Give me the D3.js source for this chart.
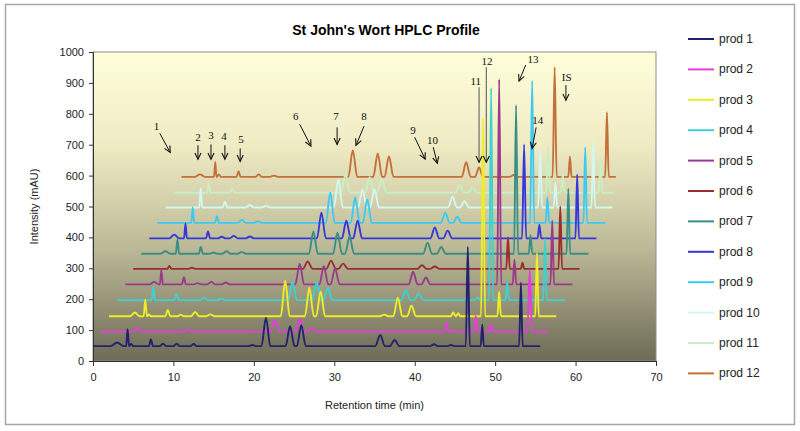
<!DOCTYPE html>
<html>
<head>
<meta charset="utf-8">
<script src="https://cdn.jsdelivr.net/npm/d3@7"></script>
<style>
  body { margin: 0; background: #fff; }
  text { font-family: Arial, "Liberation Sans", sans-serif; }
  .note { font-family: "Liberation Serif", "DejaVu Serif", serif; font-size: 11px; }
</style>
</head>
<body>
<svg width="800" height="431"></svg>
<script>
// series names + colours
var names = ["prod 1", "prod 2", "prod 3", "prod 4", "prod 5", "prod 6",
             "prod 7", "prod 8", "prod 9", "prod 10", "prod 11", "prod 12"];
var colors = ["#22226e", "#e83ce0", "#eeee22", "#3ad2d2", "#9a3a8c", "#9a2e2e",
              "#3a8e84", "#3636dc", "#3ccaf4", "#d2f8f0", "#c8f0c4", "#c4703a"];

// where each trace starts / ends (min) and its baseline (mAU)
var starts = [0, 1, 2, 3, 4, 5, 6, 7, 8, 9, 10, 11];
var ends = [55.6, 56.6, 57.6, 58.7, 59.6, 60.5, 61.6, 62.6, 63.7, 64.6, 64.8, 65.0];
var baselines = [48, 95, 145, 197, 248, 298, 347, 397, 447, 497, 545, 596];

// peaks: [retention time, height above baseline, half base width]
var peaks1 = [[3.0,12,0.8],[4.3,55,0.18],[4.75,8,0.25],[7.2,22,0.25],[8.7,8,0.4],[10.4,8,0.4],[12.5,7,0.4],
  [19.8,4,0.5],[21.5,92,0.55],[24.5,65,0.55],[25.9,68,0.55],[35.7,36,0.6],[37.5,20,0.6],[42.4,6,0.5],
  [44.5,4,0.5],[46.6,322,0.25],[48.4,70,0.2],[53.2,205,0.22]];
var peaks2 = [[5.5,10,0.6],[11.8,8,0.6],[22.6,38,0.55],[25.7,41,0.55],[27.2,10,0.6],[44.0,28,0.25],
  [47.6,51,0.22],[49.5,25,0.25],[54.3,200,0.3]];
var peaks3 = [[5.2,12,0.6],[6.5,53,0.2],[6.95,6,0.2],[9.3,20,0.3],[10.9,5,0.4],[12.7,14,0.5],[14.6,6,0.5],
  [23.9,115,0.55],[26.9,92,0.55],[28.3,80,0.55],[36.2,5,0.5],[37.9,60,0.55],[39.6,34,0.55],[44.8,12,0.3],
  [45.4,10,0.25],[48.5,640,0.25],[50.5,79,0.22],[55.2,205,0.22]];
var peaks4 = [[7.5,44,0.2],[10.4,18,0.3],[13.8,8,0.5],[16.0,5,0.5],[24.8,60,0.55],[27.8,58,0.55],
  [29.2,40,0.55],[38.9,33,0.55],[40.5,22,0.55],[46.5,6,0.5],[47.8,8,0.4],[49.5,686,0.25],[51.5,60,0.22],
  [56.2,199,0.22]];
var peaks5 = [[7.6,8,0.55],[8.5,47,0.18],[11.3,23,0.25],[13.0,4,0.5],[14.7,8,0.5],[16.5,6,0.5],
  [25.7,67,0.55],[28.7,60,0.55],[30.1,52,0.55],[39.8,41,0.55],[41.4,22,0.55],[50.5,664,0.25],
  [52.4,80,0.22],[57.1,207,0.22]];
var peaks6 = [[9.5,10,0.25],[12.3,4,0.4],[26.7,24,0.6],[29.6,27,0.6],[31.1,17,0.6],[40.9,12,0.6],
  [42.5,8,0.6],[51.6,102,0.22],[53.4,20,0.22],[58.1,202,0.22]];
var peaks7 = [[9.0,8,0.6],[10.5,46,0.2],[13.4,22,0.25],[15.0,4,0.5],[16.6,8,0.5],[18.5,6,0.5],
  [27.4,72,0.55],[30.4,68,0.55],[31.9,56,0.55],[41.6,36,0.55],[43.3,22,0.55],[52.6,481,0.25],
  [54.4,60,0.22],[59.1,211,0.22]];
var peaks8 = [[10.1,12,0.6],[11.5,48,0.18],[14.3,22,0.25],[16.0,5,0.5],[17.5,8,0.5],[19.5,6,0.5],
  [28.4,83,0.55],[31.5,57,0.55],[32.9,57,0.55],[42.5,35,0.55],[44.1,25,0.55],[53.6,304,0.25],
  [55.5,44,0.22],[60.2,207,0.22]];
var peaks9 = [[12.4,50,0.18],[15.4,22,0.25],[18.5,10,0.5],[20.5,5,0.5],[29.5,98,0.55],[32.6,82,0.55],
  [34.1,76,0.55],[43.8,33,0.55],[45.3,20,0.55],[54.6,459,0.25],[56.5,82,0.22],[61.2,245,0.22]];
var peaks10 = [[13.4,62,0.18],[16.4,18,0.3],[19.5,8,0.5],[21.5,5,0.5],[30.5,91,0.55],[33.5,58,0.55],
  [35.0,60,0.55],[44.7,35,0.55],[46.2,20,0.55],[55.6,188,0.25],[57.5,81,0.22],[62.2,214,0.22]];
var peaks11 = [[14.4,30,0.18],[17.3,12,0.3],[31.4,60,0.55],[34.4,50,0.55],[35.9,45,0.55],[45.6,25,0.55],
  [47.2,15,0.55],[56.6,150,0.25],[58.4,60,0.22],[63.1,114,0.22]];
var peaks12 = [[13.3,8,0.6],[15.2,48,0.15],[15.65,8,0.25],[18.1,18,0.25],[20.6,8,0.4],[22.5,4,0.5],
  [32.3,86,0.55],[35.4,76,0.55],[36.8,67,0.55],[46.4,47,0.55],[48.0,30,0.5],[52.3,6,0.5],
  [57.4,355,0.25],[59.3,66,0.2],[63.9,209,0.22]];
var allPeaks = [peaks1, peaks2, peaks3, peaks4, peaks5, peaks6,
                peaks7, peaks8, peaks9, peaks10, peaks11, peaks12];

var xTicks = [0, 10, 20, 30, 40, 50, 60, 70];
var yTicks = [0, 100, 200, 300, 400, 500, 600, 700, 800, 900, 1000];

// peak annotations: label, label position, arrow tail, arrow head (data units)
var noteLabels = ["1", "2", "3", "4", "5", "6", "7", "8", "9", "10", "11", "12", "13", "14", "IS"];
var notePos = [[7.9,760],[13.05,724],[14.67,731],[16.3,727],[18.4,718],[25.2,792],[30.2,792],[33.7,792],
  [39.8,747],[42.2,714],[47.6,906],[49.0,971],[54.7,977],[55.3,779],[58.9,919]];
var noteTail = [[8.3,737],[13.05,698],[14.67,701],[16.4,698],[18.3,688],[25.7,766],[30.35,756],[33.7,760],
  [40.0,724],[42.3,692],[48.0,886],[48.9,951],[53.8,958],[55.1,756],[58.8,893]];
var noteHead = [[9.6,675],[13.05,653],[14.67,653],[16.4,653],[18.3,646],[27.1,695],[30.35,701],[32.7,698],
  [41.3,653],[42.8,640],[48.0,643],[48.9,643],[52.97,906],[54.6,688],[58.8,844]];

var svg = d3.select("svg");

var plotL = 93, plotR = 656, plotT = 52, plotB = 361;
var x = d3.scaleLinear().domain([0, 70]).range([plotL, plotR]);
var y = d3.scaleLinear().domain([0, 1000]).range([plotB, plotT]);

// outer chart frame
svg.append("rect")
  .attr("x", 5.5).attr("y", 4.5).attr("width", 789).attr("height", 420)
  .attr("fill", "#fff").attr("stroke", "#a6a6a6").attr("stroke-width", 1.5);

// plot area gradient
var grad = svg.append("defs").append("linearGradient")
  .attr("id", "bg").attr("x1", 0).attr("y1", 0).attr("x2", 0).attr("y2", 1);
grad.append("stop").attr("offset", "0%").attr("stop-color", "#fffedb");
grad.append("stop").attr("offset", "30%").attr("stop-color", "#efecc4");
grad.append("stop").attr("offset", "65%").attr("stop-color", "#b9b695");
grad.append("stop").attr("offset", "100%").attr("stop-color", "#6e6b57");

svg.append("rect")
  .attr("x", plotL).attr("y", plotT).attr("width", plotR - plotL).attr("height", plotB - plotT)
  .attr("fill", "url(#bg)").attr("stroke", "#8c8c8c").attr("stroke-width", 1);

// title
svg.append("text")
  .attr("x", 386).attr("y", 35)
  .attr("text-anchor", "middle")
  .style("font-size", "14px").style("font-weight", "bold")
  .text("St John's Wort HPLC Profile");

// axes
var yAxis = svg.append("g")
  .attr("transform", "translate(" + plotL + ",0)")
  .call(d3.axisLeft(y).tickValues(yTicks).tickFormat(d3.format("d")).tickSize(4).tickPadding(5));
var xAxis = svg.append("g")
  .attr("transform", "translate(0," + plotB + ")")
  .call(d3.axisBottom(x).tickValues(xTicks).tickFormat(d3.format("d")).tickSize(5).tickPadding(7));
[xAxis, yAxis].forEach(function(a) {
  a.selectAll("text").style("font-size", "11px").attr("fill", "#222")
    .style("font-family", "Arial, 'Liberation Sans', sans-serif");
  a.selectAll("line").attr("stroke", "#333");
  a.select(".domain").attr("stroke", "#333");
});

svg.append("text")
  .attr("transform", "translate(38," + ((plotT + plotB) / 2) + ") rotate(-90)")
  .attr("text-anchor", "middle")
  .style("font-size", "11px").attr("fill", "#222")
  .text("Intensity (mAU)");
svg.append("text")
  .attr("x", (plotL + plotR) / 2).attr("y", 409)
  .attr("text-anchor", "middle")
  .style("font-size", "11px").attr("fill", "#222")
  .text("Retention time (min)");

// build each trace from its peak list
function tracePoints(i) {
  var pts = [[starts[i], 0]];
  allPeaks[i].forEach(function(p) {
    pts.push([p[0] - p[2], 0]);
    pts.push([p[0], p[1]]);
    pts.push([p[0] + p[2], 0]);
  });
  pts.push([ends[i], 0]);
  return pts;
}

var line = d3.line()
  .x(function(d) { return x(d[0]); })
  .y(function(d) { return y(d[1]); })
  .curve(d3.curveMonotoneX);

var traces = svg.append("g");
// drawn last-to-first so the lower traces sit on top
d3.range(names.length).reverse().forEach(function(i) {
  traces.append("path")
    .datum(tracePoints(i).map(function(d) { return [d[0], d[1] + baselines[i]]; }))
    .attr("fill", "none")
    .attr("stroke", colors[i])
    .attr("stroke-width", 1.9)
    .attr("stroke-linejoin", "round")
    .attr("d", line);
});

// annotations
var notes = svg.append("g");
noteLabels.forEach(function(lab, i) {
  var t = noteTail[i], h = noteHead[i];
  var x1 = x(t[0]), y1 = y(t[1]), x2 = x(h[0]), y2 = y(h[1]);
  var ang = Math.atan2(y2 - y1, x2 - x1);
  var len = 7, spread = 0.45;
  notes.append("line")
    .attr("x1", x1).attr("y1", y1).attr("x2", x2).attr("y2", y2)
    .attr("stroke", i == 10 || i == 11 ? "#555" : "#111").attr("stroke-width", 1);
  notes.append("path")
    .attr("d", "M" + (x2 - len * Math.cos(ang - spread)) + "," + (y2 - len * Math.sin(ang - spread)) +
      "L" + x2 + "," + y2 +
      "L" + (x2 - len * Math.cos(ang + spread)) + "," + (y2 - len * Math.sin(ang + spread)))
    .attr("fill", "none").attr("stroke", "#111").attr("stroke-width", 1.1);
  notes.append("text")
    .attr("class", "note")
    .attr("x", x(notePos[i][0])).attr("y", y(notePos[i][1]) + 4)
    .attr("text-anchor", "middle")
    .attr("fill", "#111")
    .text(lab);
});

// legend
var legend = svg.append("g");
names.forEach(function(n, i) {
  var ly = 39 + i * 30.4;
  legend.append("line")
    .attr("x1", 688).attr("x2", 714).attr("y1", ly).attr("y2", ly)
    .attr("stroke", colors[i]).attr("stroke-width", 2);
  legend.append("text")
    .attr("x", 719).attr("y", ly + 4)
    .style("font-size", "12px").attr("fill", "#222")
    .text(n);
});
</script>
</body>
</html>
